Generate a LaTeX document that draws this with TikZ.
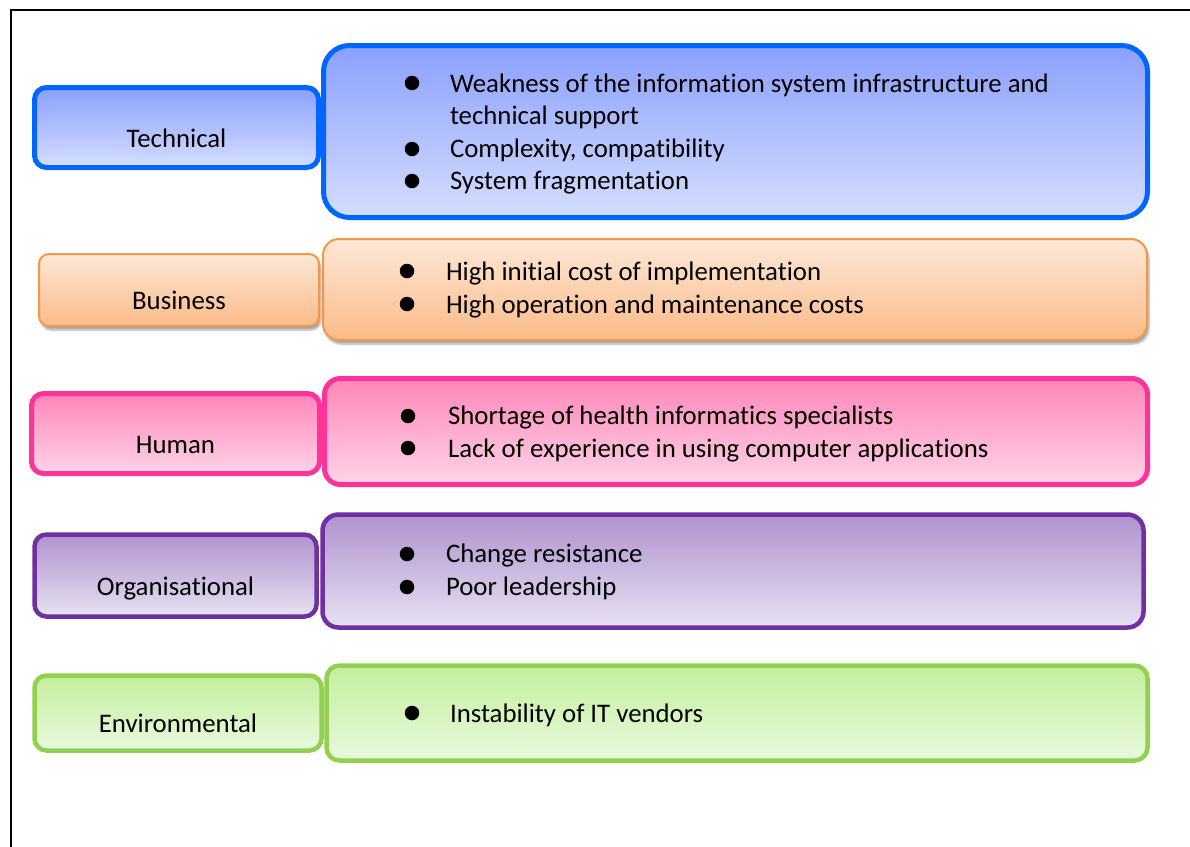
\documentclass[tikz,border=0pt]{standalone}
\usepackage{fontspec}
\setmainfont{Carlito}[Ligatures=NoCommon]
\usetikzlibrary{shadows.blur}

% outline and gradient colours of the five categories
\definecolor{techline}{HTML}{0066FF}
\definecolor{techtop}{HTML}{8AA0FC}
\definecolor{techbot}{HTML}{D6DEFE}
\definecolor{busline}{HTML}{F79646}
\definecolor{bustop}{HTML}{FDE8D8}
\definecolor{busbot}{HTML}{FBBB88}
\definecolor{humline}{HTML}{FF3399}
\definecolor{humtop}{HTML}{FF86BA}
\definecolor{humbot}{HTML}{FDD4E7}
\definecolor{orgline}{HTML}{7030A0}
\definecolor{orgtop}{HTML}{AF92CF}
\definecolor{orgbot}{HTML}{E7E1F1}
\definecolor{envline}{HTML}{92D050}
\definecolor{envtop}{HTML}{C3EF9C}
\definecolor{envbot}{HTML}{E9F9DE}

\begin{document}
\begin{tikzpicture}[x=1pt,y=-1pt,
  every node/.style={inner sep=0pt, outer sep=0pt},
  base/.style={draw, rectangle, font=\fontsize{26.8}{32}\selectfont},
  catbox/.style={base, rounded corners=12pt, text height=39pt, text depth=0pt},
  listbox/.style={base, rounded corners=16pt},
  techstyle/.style={draw=techline, line width=5pt, top color=techtop, bottom color=techbot},
  busstyle/.style={draw=busline, line width=2pt, top color=bustop, bottom color=busbot,
    blur shadow={shadow xshift=2pt, shadow yshift=-4pt, shadow blur steps=6, shadow opacity=35}},
  humstyle/.style={draw=humline, line width=5pt, top color=humtop, bottom color=humbot},
  orgstyle/.style={draw=orgline, line width=4.5pt, top color=orgtop, bottom color=orgbot},
  envstyle/.style={draw=envline, line width=4.5pt, top color=envtop, bottom color=envbot},
  item/.style={anchor=base west, font=\fontsize{26.8}{32}\selectfont},
  bul/.style={circle, fill=black, minimum size=14.5pt},
]
\useasboundingbox (0,0) rectangle (1190,846);
\clip (0,0) rectangle (1190,846);

% page frame
\draw[line width=2pt] (11,870) -- (11,10) -- (1210,10);

% Technical
\node[catbox, techstyle, minimum width=284pt, minimum height=80pt] (tech) at (176.5,127.5) {Technical};
\node[listbox, techstyle, rounded corners=26pt, minimum width=824pt, minimum height=172pt] (techlist) at (735.5,131.5) {};
\node[bul] (tb1) at (412,83) {};
\node[item] (ti1) at (450,92) {Weakness of the information system infrastructure and};
\node[item] (ti1b) at (450,124.5) {technical support};
\node[bul] (tb2) at (412,149) {};
\node[item] (ti2) at (450,157) {Complexity, compatibility};
\node[bul] (tb3) at (412,181) {};
\node[item] (ti3) at (450,189) {System fragmentation};

% Business
\node[catbox, busstyle, rounded corners=10pt, minimum width=280pt, minimum height=72pt] (bus) at (179,290) {Business};
\node[listbox, busstyle, minimum width=824pt, minimum height=101pt] (buslist) at (735,289.5) {};
\node[bul] (bb1) at (407,271) {};
\node[item] (bi1) at (446,280) {High initial cost of implementation};
\node[bul] (bb2) at (407,304) {};
\node[item] (bi2) at (446,313) {High operation and maintenance costs};

% Human
\node[catbox, humstyle, minimum width=288pt, minimum height=80pt] (hum) at (175.5,433.5) {Human};
\node[listbox, humstyle, minimum width=823pt, minimum height=106pt] (humlist) at (736,431.5) {};
\node[bul] (hb1) at (408,416) {};
\node[item] (hi1) at (448,424) {Shortage of health informatics specialists};
\node[bul] (hb2) at (408,448) {};
\node[item] (hi2) at (448,457) {Lack of experience in using computer applications};

% Organisational
\node[catbox, orgstyle, minimum width=282pt, minimum height=82pt] (org) at (175.5,575.5) {Organisational};
\node[listbox, orgstyle, minimum width=821pt, minimum height=113pt] (orglist) at (733,571) {};
\node[bul] (ob1) at (407,554) {};
\node[item] (oi1) at (446,562) {Change resistance};
\node[bul] (ob2) at (407,587) {};
\node[item] (oi2) at (446,595) {Poor leadership};

% Environmental
\node[catbox, envstyle, minimum width=287pt, minimum height=75pt] (env) at (178,713) {Environmental};
\node[listbox, envstyle, rounded corners=13pt, minimum width=821pt, minimum height=95pt] (envlist) at (737,713) {};
\node[bul] (eb1) at (412,713) {};
\node[item] (ei1) at (450,722) {Instability of IT vendors};
\end{tikzpicture}
\end{document}
